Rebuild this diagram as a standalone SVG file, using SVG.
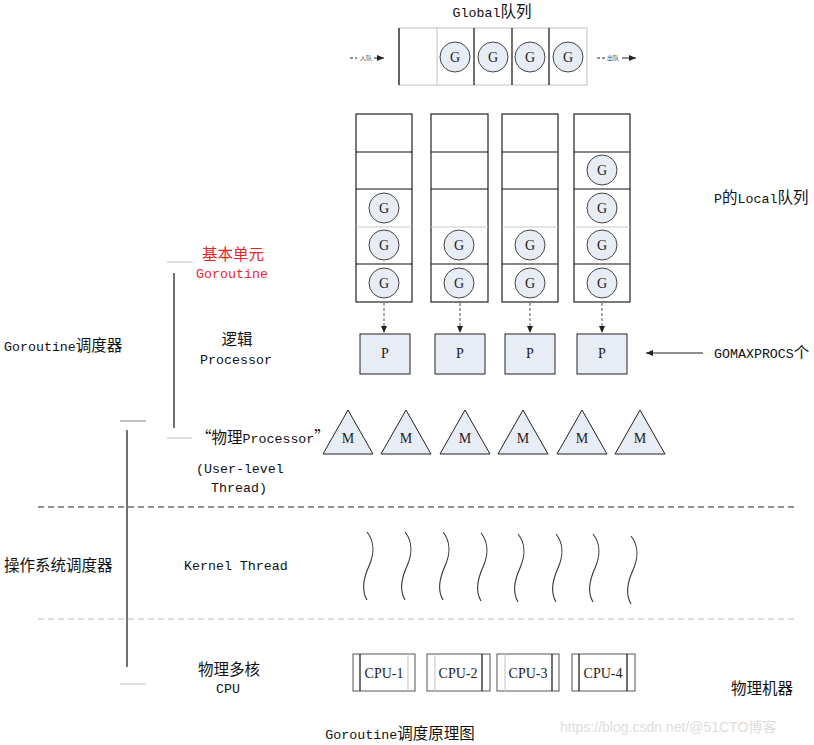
<svg xmlns="http://www.w3.org/2000/svg" width="814" height="745" viewBox="0 0 814 745">
<defs>
<style>
.t{font-family:"Liberation Mono","Noto Sans CJK SC",monospace;font-size:13.3px;fill:#111}
.c{font-family:"Noto Sans CJK SC",sans-serif;font-size:15.5px}
.s{font-family:"Liberation Serif","Noto Sans CJK SC",serif;font-size:14px;fill:#222}
.red{fill:#e8262a}
.cell{fill:#fff;stroke:#222;stroke-width:1.2}
.g{fill:#e8ecf5;stroke:#444;stroke-width:1}
.box{fill:#e8ecf5;stroke:#222;stroke-width:1}
.gl{stroke:#ccc;stroke-width:1.2}
.bl{stroke:#111;stroke-width:1.2}
.wave{fill:none;stroke:#333;stroke-width:1.1}
.cpu{fill:#fff;stroke:#555;stroke-width:1}
</style>
<marker id="ah" markerWidth="8" markerHeight="8" refX="7" refY="4" orient="auto" markerUnits="userSpaceOnUse">
<path d="M0,1 L7,4 L0,7 z" fill="#222"/>
</marker>
</defs>

<g id="title-global"><text class="t" x="492" y="17" text-anchor="middle">Global<tspan class="c" font-size="13.5">队列</tspan></text></g>

<g id="global-queue">
<rect x="399" y="28" width="188" height="57" fill="#fff" stroke="#ccc" stroke-width="1.2"/>
<line x1="399" y1="28" x2="399" y2="85" class="bl"/>
<line x1="437" y1="28" x2="437" y2="85" class="gl"/>
<line x1="474" y1="28" x2="474" y2="85" class="bl"/>
<line x1="512" y1="28" x2="512" y2="85" class="bl"/>
<line x1="549" y1="28" x2="549" y2="85" class="bl"/>
<circle class="g" cx="455" cy="57" r="15"/><text class="s" x="455" y="62" text-anchor="middle">G</text>
<circle class="g" cx="493" cy="57" r="15"/><text class="s" x="493" y="62" text-anchor="middle">G</text>
<circle class="g" cx="530" cy="57" r="15"/><text class="s" x="530" y="62" text-anchor="middle">G</text>
<circle class="g" cx="568" cy="57" r="15"/><text class="s" x="568" y="62" text-anchor="middle">G</text>
</g>
<g id="enqueue">
<line x1="350" y1="58" x2="357" y2="58" stroke="#222" stroke-dasharray="3,2"/>
<text x="360" y="60" font-family="Noto Sans CJK SC,sans-serif" font-size="6" fill="#444">入队</text>
<line x1="374" y1="58" x2="384" y2="58" stroke="#222" marker-end="url(#ah)"/>
</g>
<g id="dequeue">
<line x1="597" y1="58" x2="605" y2="58" stroke="#222" stroke-dasharray="3,2"/>
<text x="607" y="60" font-family="Noto Sans CJK SC,sans-serif" font-size="6" fill="#444">出队</text>
<line x1="622" y1="58" x2="636" y2="58" stroke="#222" marker-end="url(#ah)"/>
</g>

<g id="local-queue-1">
<rect class="cell" x="356" y="114" width="56" height="188"/>
<line x1="356" y1="152" x2="412" y2="152" class="bl"/><line x1="356" y1="189" x2="412" y2="189" class="bl"/><line x1="356" y1="227" x2="412" y2="227" class="gl"/><line x1="356" y1="264" x2="412" y2="264" class="bl"/>
<circle class="g" cx="384" cy="208" r="15"/><text class="s" x="384" y="213" text-anchor="middle">G</text>
<circle class="g" cx="384" cy="245" r="15"/><text class="s" x="384" y="250" text-anchor="middle">G</text>
<circle class="g" cx="384" cy="283" r="15"/><text class="s" x="384" y="288" text-anchor="middle">G</text>
</g>
<g id="local-queue-2">
<rect class="cell" x="431" y="114" width="57" height="188"/>
<line x1="431" y1="152" x2="488" y2="152" class="bl"/><line x1="431" y1="189" x2="488" y2="189" class="bl"/><line x1="431" y1="227" x2="488" y2="227" class="gl"/><line x1="431" y1="264" x2="488" y2="264" class="bl"/>
<circle class="g" cx="459" cy="245" r="15"/><text class="s" x="459" y="250" text-anchor="middle">G</text>
<circle class="g" cx="459" cy="283" r="15"/><text class="s" x="459" y="288" text-anchor="middle">G</text>
</g>
<g id="local-queue-3">
<rect class="cell" x="502" y="114" width="56" height="188"/>
<line x1="502" y1="152" x2="558" y2="152" class="bl"/><line x1="502" y1="189" x2="558" y2="189" class="bl"/><line x1="502" y1="227" x2="558" y2="227" class="gl"/><line x1="502" y1="264" x2="558" y2="264" class="bl"/>
<circle class="g" cx="530" cy="245" r="15"/><text class="s" x="530" y="250" text-anchor="middle">G</text>
<circle class="g" cx="530" cy="283" r="15"/><text class="s" x="530" y="288" text-anchor="middle">G</text>
</g>
<g id="local-queue-4">
<rect class="cell" x="574" y="114" width="56" height="188"/>
<line x1="574" y1="152" x2="630" y2="152" class="bl"/><line x1="574" y1="189" x2="630" y2="189" class="bl"/><line x1="574" y1="227" x2="630" y2="227" class="gl"/><line x1="574" y1="264" x2="630" y2="264" class="bl"/>
<circle class="g" cx="602" cy="170" r="15"/><text class="s" x="602" y="175" text-anchor="middle">G</text>
<circle class="g" cx="602" cy="208" r="15"/><text class="s" x="602" y="213" text-anchor="middle">G</text>
<circle class="g" cx="602" cy="245" r="15"/><text class="s" x="602" y="250" text-anchor="middle">G</text>
<circle class="g" cx="602" cy="283" r="15"/><text class="s" x="602" y="288" text-anchor="middle">G</text>
</g>

<g id="label-local"><text class="t" x="714" y="203">P<tspan class="c" font-size="14">的</tspan>Local<tspan class="c" font-size="14">队列</tspan></text></g>

<g id="connectors">
<line x1="384" y1="303" x2="384" y2="333" stroke="#555" stroke-dasharray="3,2" marker-end="url(#ah)"/>
<line x1="460" y1="303" x2="460" y2="333" stroke="#555" stroke-dasharray="3,2" marker-end="url(#ah)"/>
<line x1="530" y1="303" x2="530" y2="333" stroke="#555" stroke-dasharray="3,2" marker-end="url(#ah)"/>
<line x1="602" y1="303" x2="602" y2="333" stroke="#555" stroke-dasharray="3,2" marker-end="url(#ah)"/>
<line x1="703" y1="353" x2="646" y2="353" stroke="#222" stroke-width="1" marker-end="url(#ah)"/>
</g>

<g id="p1"><rect class="box" x="360" y="334" width="50" height="40"/><text class="s" x="385" y="358" text-anchor="middle">P</text></g>
<g id="p2"><rect class="box" x="435" y="334" width="50" height="40"/><text class="s" x="460" y="358" text-anchor="middle">P</text></g>
<g id="p3"><rect class="box" x="505" y="334" width="50" height="40"/><text class="s" x="530" y="358" text-anchor="middle">P</text></g>
<g id="p4"><rect class="box" x="577" y="334" width="50" height="40"/><text class="s" x="602" y="358" text-anchor="middle">P</text></g>

<g id="label-gomaxprocs"><text class="t" x="714" y="358">GOMAXPROCS<tspan class="c">个</tspan></text></g>

<g id="m1"><polygon class="box" points="348,410 323,454 373,454"/><text class="s" x="348" y="443" text-anchor="middle">M</text></g>
<g id="m2"><polygon class="box" points="406,410 381,454 431,454"/><text class="s" x="406" y="443" text-anchor="middle">M</text></g>
<g id="m3"><polygon class="box" points="465,410 440,454 490,454"/><text class="s" x="465" y="443" text-anchor="middle">M</text></g>
<g id="m4"><polygon class="box" points="523,410 498,454 548,454"/><text class="s" x="523" y="443" text-anchor="middle">M</text></g>
<g id="m5"><polygon class="box" points="582,410 557,454 607,454"/><text class="s" x="582" y="443" text-anchor="middle">M</text></g>
<g id="m6"><polygon class="box" points="640,410 615,454 665,454"/><text class="s" x="640" y="443" text-anchor="middle">M</text></g>

<g id="left-labels">
<text class="t red c" x="233" y="260" text-anchor="middle">基本单元</text>
<text class="t red" x="232" y="278" text-anchor="middle">Goroutine</text>
<text class="t c" x="237" y="345" text-anchor="middle">逻辑</text>
<text class="t" x="236" y="364" text-anchor="middle">Processor</text>
<text class="t" x="196" y="443"><tspan class="c">“物理</tspan>Processor<tspan class="c">”</tspan></text>
<text class="t" x="196" y="473">(User-level</text>
<text class="t" x="211" y="492">Thread)</text>
<text class="t" x="4" y="351">Goroutine<tspan class="c">调度器</tspan></text>
<text class="t c" x="4" y="571">操作系统调度器</text>
<text class="t" x="184" y="570">Kernel Thread</text>
<text class="t c" x="229" y="675" text-anchor="middle">物理多核</text>
<text class="t" x="228" y="693" text-anchor="middle">CPU</text>
<text class="t c" x="731" y="694">物理机器</text>
</g>

<g id="brackets">
<line x1="167" y1="262" x2="192" y2="262" stroke="#ccc" stroke-width="1.2"/>
<line x1="174" y1="273" x2="174" y2="428" stroke="#111" stroke-width="1.2"/>
<line x1="167" y1="438" x2="192" y2="438" stroke="#ccc" stroke-width="1.2"/>
<line x1="120" y1="421" x2="146" y2="421" stroke="#999" stroke-width="1.2"/>
<line x1="127" y1="430" x2="127" y2="667" stroke="#111" stroke-width="1.2"/>
<line x1="120" y1="684" x2="146" y2="684" stroke="#ccc" stroke-width="1.2"/>
</g>

<g id="dividers">
<line x1="38" y1="507" x2="797" y2="507" stroke="#222" stroke-width="1.1" stroke-dasharray="6,4"/>
<line x1="38" y1="619" x2="797" y2="619" stroke="#bbb" stroke-width="1.1" stroke-dasharray="6,4"/>
</g>

<g id="kernel-threads">
<path class="wave" d="M367,532 C375,542 374,555 369,566 C364,577 361,590 367,600"/>
<path class="wave" d="M405,532 C413,542 412,555 407,566 C402,577 399,590 405,600"/>
<path class="wave" d="M443,532 C451,542 450,555 445,566 C440,577 437,590 443,600"/>
<path class="wave" d="M481,533 C489,543 488,556 483,567 C478,578 475,591 481,601"/>
<path class="wave" d="M518,534 C526,544 525,557 520,568 C515,579 512,592 518,602"/>
<path class="wave" d="M556,534 C564,544 563,557 558,568 C553,579 550,592 556,602"/>
<path class="wave" d="M593,534 C601,544 600,557 595,568 C590,579 587,592 593,602"/>
<path class="wave" d="M631,536 C639,546 638,559 633,570 C628,581 625,594 631,604"/>
</g>

<g id="cpu1"><rect class="cpu" x="353" y="654" width="62" height="37"/><line x1="360" y1="654" x2="360" y2="691" class="bl"/><line x1="408" y1="654" x2="408" y2="691" class="gl"/><text class="s" x="384" y="678" text-anchor="middle">CPU-1</text></g>
<g id="cpu2"><rect class="cpu" x="427" y="654" width="63" height="37"/><line x1="435" y1="654" x2="435" y2="691" class="gl"/><line x1="482" y1="654" x2="482" y2="691" class="bl"/><text class="s" x="458" y="678" text-anchor="middle">CPU-2</text></g>
<g id="cpu3"><rect class="cpu" x="497" y="654" width="62" height="37"/><line x1="505" y1="654" x2="505" y2="691" class="gl"/><line x1="552" y1="654" x2="552" y2="691" class="bl"/><text class="s" x="528" y="678" text-anchor="middle">CPU-3</text></g>
<g id="cpu4"><rect class="cpu" x="572" y="654" width="63" height="37"/><line x1="579" y1="654" x2="579" y2="691" class="bl"/><line x1="627" y1="654" x2="627" y2="691" class="bl"/><text class="s" x="603" y="678" text-anchor="middle">CPU-4</text></g>

<g id="caption"><text class="t" x="400" y="739" text-anchor="middle">Goroutine<tspan class="c" font-size="15">调度原理图</tspan></text></g>
<g id="watermark"><text x="560" y="732" font-family="Liberation Sans,Noto Sans CJK SC,sans-serif" font-size="14" fill="#ddd">https://blog.csdn.net/@51CTO博客</text></g>
</svg>
